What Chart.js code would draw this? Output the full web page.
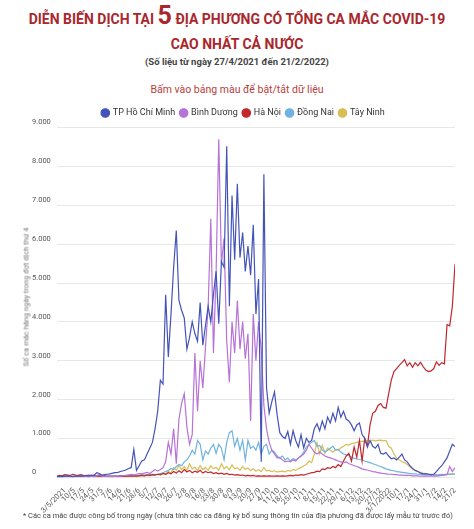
<!DOCTYPE html>
<html>
<head>
<meta charset="utf-8">
<script src="https://cdn.jsdelivr.net/npm/chart.js@4.4.1/dist/chart.umd.min.js"></script>
<style>
  html, body { margin: 0; padding: 0; background: #fff; }
  body { width: 474px; height: 529px; position: relative; overflow: hidden; font-family: Roboto, "Noto Sans", sans-serif; }
  #tieude { position: absolute; top: 7px; left: 0; width: 474px; text-align: center; color: #a9272c; font-weight: 700; font-size: 14px; line-height: 25px; }
  #tieude .so5 { font-size: 25px; line-height: 0; }
  #nguon { position: absolute; top: 56px; left: 0; width: 474px; text-align: center; color: #444; font-weight: 700; font-size: 9.5px; }
  #goiy { position: absolute; top: 83px; left: 0; width: 474px; text-align: center; color: #b8403c; font-size: 10.5px; }
  #khung { position: absolute; top: 103px; left: 0; width: 474px; height: 413px; }
  #truc-y { position: absolute; left: 26px; top: 297px; transform: translate(-50%, -50%) rotate(-90deg); color: #777; font-size: 7.5px; white-space: nowrap; }
  #ghichu { position: absolute; top: 511px; left: 23px; color: #444; font-size: 7.5px; white-space: nowrap; }
</style>
</head>
<body>
<div id="tieude">DIỄN BIẾN DỊCH TẠI <span class="so5">5</span> ĐỊA PHƯƠNG CÓ TỔNG CA MẮC COVID-19<br>CAO NHẤT CẢ NƯỚC</div>
<div id="nguon">(Số liệu từ ngày 27/4/2021 đến 21/2/2022)</div>
<div id="goiy">Bấm vào bảng màu để bật/tắt dữ liệu</div>
<div id="khung"><canvas id="bieudo"></canvas></div>
<div id="truc-y">Số ca mắc hằng ngày trong đợt dịch thứ 4</div>
<div id="ghichu">* Các ca mắc được công bố trong ngày (chưa tính các ca đăng ký bổ sung thông tin của địa phương đã được lấy mẫu từ trước đó)</div>
<script>
// moi diem cach nhau 2 ngay, tinh tu 27/4/2021 (ngay 0) den 21/2/2022 (ngay 300)
const ngay = Array.from({ length: 151 }, (_, i) => i * 2);

const tenTinh = ['TP Hồ Chí Minh', 'Bình Dương', 'Hà Nội', 'Đồng Nai', 'Tây Ninh'];

const hcm = [
    20, 30, 20, 30, 40, 30, 20, 30, 40, 30,
    40, 50, 40, 60, 50, 120, 100, 60, 70, 80,
    90, 110, 120, 130, 150, 170, 190, 230, 250, 720,
    180, 300, 420, 450, 600, 750, 900, 1250, 1700, 2500,
    2400, 4700, 3100, 4200, 5400, 6350, 4550, 4300, 4100, 3300,
    3600, 4000, 3700, 3500, 4500, 3400, 3900, 4400, 4000, 4700,
    5300, 3950, 5550, 5400, 8520, 4400, 7250, 5600, 7550, 5650,
    6300, 5300, 5950, 5200, 6500, 4200, 5100, 400, 7800, 2300,
    1650, 1950, 2200, 1600, 1150, 1050, 1000, 1180, 850, 1200,
    950, 780, 1100, 760, 1000, 900, 950, 1250, 1380, 1200,
    1450, 1250, 1550, 1400, 1650, 1450, 1800, 1550, 1700, 1500,
    1450, 1350, 1200, 1350, 1400, 1100, 1000, 780, 950, 800,
    750, 850, 620, 600, 640, 550, 480, 500, 450, 520,
    600, 450, 400, 300, 230, 180, 150, 110, 90, 100,
    80, 70, 80, 150, 230, 300, 400, 500, 680, 850,
    790
];
const binhDuong = [
    10, 20, 10, 20, 30, 20, 10, 20, 30, 20,
    20, 30, 20, 30, 20, 40, 80, 30, 20, 30,
    20, 30, 20, 30, 30, 40, 50, 60, 80, 60,
    80, 100, 90, 110, 130, 100, 150, 200, 160, 200,
    250, 400, 900, 600, 1250, 350, 1500, 1900, 2150, 1300,
    850, 1100, 3200, 1700, 3000, 2300, 3350, 4370, 6650, 3200,
    5250, 8700, 5500, 6150, 3500, 2450, 4000, 3200, 4550, 3300,
    4000, 3050, 3700, 1450, 4200, 3000, 4000, 3300, 1850, 1250,
    900, 700, 600, 500, 500, 450, 400, 420, 400, 450,
    420, 500, 550, 600, 700, 850, 750, 650, 600, 650,
    600, 550, 520, 500, 480, 450, 420, 400, 380, 400,
    350, 330, 300, 280, 250, 220, 200, 190, 170, 150,
    140, 120, 110, 100, 90, 80, 80, 70, 70, 60,
    60, 50, 50, 50, 40, 40, 40, 30, 30, 40,
    30, 30, 40, 30, 40, 50, 60, 70, 280, 150,
    250
];
const haNoi = [
    30, 50, 40, 70, 60, 50, 80, 60, 50, 70,
    50, 40, 60, 40, 50, 30, 40, 30, 40, 20,
    30, 20, 30, 20, 30, 20, 30, 40, 30, 40,
    30, 40, 50, 40, 60, 50, 70, 60, 80, 70,
    100, 80, 120, 90, 150, 110, 170, 120, 200, 140,
    180, 120, 160, 130, 180, 110, 150, 120, 140, 100,
    120, 90, 110, 80, 100, 70, 80, 60, 70, 50,
    60, 40, 50, 40, 50, 30, 40, 30, 40, 30,
    40, 30, 30, 40, 30, 40, 30, 40, 50, 40,
    60, 50, 70, 60, 80, 100, 120, 130, 160, 150,
    220, 200, 250, 230, 280, 250, 330, 280, 420, 550,
    620, 420, 780, 520, 950, 420, 1000, 800, 1350, 1650,
    1700, 1850, 1900, 1800, 1780, 2150, 2500, 2720, 2800, 2880,
    2950, 3030, 2870, 2950, 2830, 2950, 2870, 2960, 2850, 2760,
    2720, 2740, 2800, 2970, 2880, 2950, 2920, 3930, 3900, 4400,
    5480
];
const dongNai = [
    10, 20, 20, 30, 20, 30, 20, 30, 40, 30,
    20, 30, 20, 30, 20, 30, 30, 20, 30, 40,
    30, 40, 30, 40, 50, 40, 50, 60, 50, 60,
    50, 60, 70, 60, 80, 70, 80, 70, 80, 100,
    120, 150, 180, 230, 200, 280, 330, 300, 400, 450,
    550, 700, 600, 950, 850, 450, 680, 600, 750, 850,
    620, 850, 750, 450, 900, 1150, 1200, 800, 1000, 700,
    950, 450, 950, 750, 800, 700, 900, 600, 800, 850,
    600, 700, 650, 550, 500, 550, 450, 500, 420, 480,
    450, 500, 550, 650, 780, 850, 900, 950, 800, 820,
    700, 650, 700, 750, 800, 700, 720, 650, 600, 580,
    560, 520, 490, 480, 460, 450, 420, 400, 380, 350,
    330, 300, 280, 250, 220, 200, 180, 170, 150, 140,
    130, 120, 110, 100, 90, 90, 80, 80, 70, 70,
    70, 60, 70, 60, 70, 80, 70, 80, 90, 80,
    90
];
const tayNinh = [
    20, 10, 30, 20, 10, 20, 30, 20, 10, 20,
    30, 20, 10, 20, 30, 20, 10, 20, 30, 20,
    10, 20, 30, 20, 30, 20, 30, 20, 40, 30,
    40, 30, 50, 40, 50, 40, 60, 60, 80, 60,
    100, 80, 150, 120, 250, 180, 300, 200, 280, 180,
    350, 220, 260, 180, 300, 200, 250, 180, 300, 220,
    260, 180, 350, 220, 280, 200, 320, 220, 250, 180,
    280, 200, 240, 170, 220, 160, 200, 150, 250, 170,
    180, 150, 170, 140, 150, 160, 140, 180, 160, 200,
    180, 230, 250, 300, 330, 420, 380, 600, 900, 600,
    820, 620, 750, 700, 650, 720, 700, 760, 800, 850,
    830, 870, 880, 900, 920, 930, 920, 950, 930, 960,
    940, 950, 960, 940, 950, 800, 750, 600, 500, 450,
    400, 380, 330, 270, 220, 180, 150, 130, 110, 100,
    90, 80, 70, 70, 60, 60, 70, 80, 70, 90,
    80
];

// nhan truc hoanh: moi tuan mot nhan, bat dau 3/5/2021 (ngay 6)
const nhanTuan = [
    '3/5/2021', '10/5', '17/5', '24/5', '31/5', '7/6', '14/6', '21/6', '28/6',
    '5/7', '12/7', '19/7', '26/7', '2/8', '9/8', '16/8', '23/8', '30/8',
    '6/9', '13/9', '20/9', '27/9', '4/10', '11/10', '18/10', '25/10',
    '1/11', '8/11', '15/11', '22/11', '29/11', '6/12', '13/12', '20/12', '27/12',
    '3/1/2022', '10/1', '17/1', '24/1', '31/1', '7/2', '14/2', '21/2'
];
const mocY = [0, 1000, 2000, 3000, 4000, 5000, 6000, 7000, 8000, 9000];

const mau = ['#4453b8', '#b672d6', '#c0282d', '#6fb2df', '#d9bd55'];

function dinhDangSo(v) {
    return String(v).replace(/\B(?=(\d{3})+(?!\d))/g, '.');
}

const chuoiSo = [hcm, binhDuong, haNoi, dongNai, tayNinh];

function veBieuDo() {
    const ctx = document.getElementById('bieudo').getContext('2d');

    new Chart(ctx, {
        type: 'line',
        data: {
            datasets: chuoiSo.map((arr, k) => ({
                label: tenTinh[k],
                data: arr.map((v, i) => ({ x: ngay[i], y: v })),
                borderColor: mau[k],
                backgroundColor: mau[k],
                borderWidth: 1.2,
                pointRadius: 0,
                tension: 0
            }))
        },
        options: {
            responsive: true,
            maintainAspectRatio: false,
            animation: false,
            layout: { padding: { left: 32, right: 19, top: 0, bottom: 0 } },
            plugins: {
                legend: {
                    position: 'top',
                    labels: {
                        usePointStyle: true,
                        pointStyle: 'circle',
                        boxWidth: 6,
                        boxHeight: 6,
                        padding: 5.5,
                        color: '#333',
                        font: { family: 'Roboto', size: 9 }
                    }
                },
                tooltip: { enabled: false }
            },
            scales: {
                x: {
                    type: 'linear',
                    min: 0,
                    max: 300,
                    grid: { display: false },
                    border: { display: false },
                    afterBuildTicks: axis => {
                        axis.ticks = nhanTuan.map((_, k) => ({ value: 6 + 7 * k }));
                    },
                    ticks: {
                        autoSkip: false,
                        maxRotation: 45,
                        minRotation: 45,
                        padding: 1,
                        color: '#555',
                        font: { family: 'Roboto', size: 7.5 },
                        callback: (v, i) => nhanTuan[i]
                    }
                },
                y: {
                    min: 0,
                    max: 9000,
                    afterBuildTicks: axis => {
                        axis.ticks = mocY.map(v => ({ value: v }));
                    },
                    grid: { color: '#e8e8e8', drawTicks: false, lineWidth: 1 },
                    border: { display: false },
                    ticks: {
                        crossAlign: 'far',
                        labelOffset: -5,
                        padding: 3,
                        color: '#555',
                        font: { family: 'Roboto', size: 7.5 },
                        callback: v => dinhDangSo(v)
                    }
                }
            }
        }
    });
}

Promise.all([
    document.fonts.load('10px Roboto'),
    document.fonts.load('bold 10px Roboto')
]).then(veBieuDo, veBieuDo);
</script>
</body>
</html>
